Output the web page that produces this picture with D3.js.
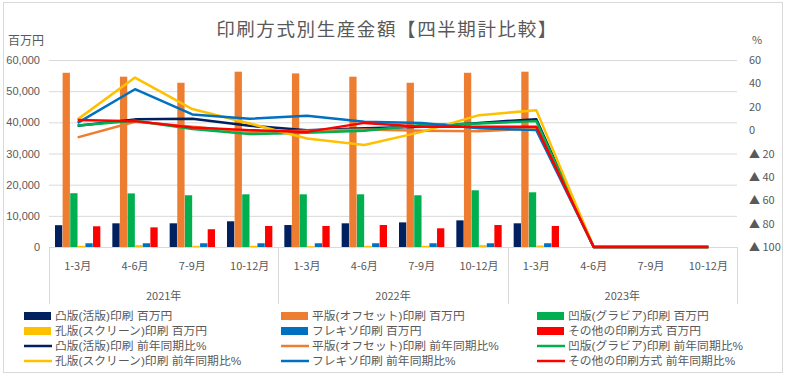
<!DOCTYPE html>
<html>
<head>
<meta charset="utf-8">
<script src="https://cdn.jsdelivr.net/npm/d3@7"></script>
<style>
  body { margin: 0; background: #fff; }
  text { font-family: "Noto Sans CJK JP", "Noto Sans", sans-serif; fill: #595959; }
</style>
</head>
<body>
<div id="chart-area"></div>
<script>
// categories
const quarters = ["1-3月", "4-6月", "7-9月", "10-12月"]
const years = ["2021年", "2022年", "2023年"]

// production amount, million yen (2023 Q2-Q4 not yet reported)
const letterpress = [7000, 7600, 7600, 8250, 7050, 7600, 7900, 8550, 7600, null, null, null]
const offset = [55900, 54650, 52700, 56250, 55700, 54650, 52700, 55900, 56250, null, null, null]
const gravure = [17250, 17200, 16600, 16900, 16900, 16900, 16600, 18200, 17550, null, null, null]
const screen = [400, 600, 400, 400, 300, 400, 400, 600, 500, null, null, null]
const flexo = [1200, 1200, 1200, 1200, 1200, 1200, 1200, 1200, 1200, null, null, null]
const other = [6650, 6300, 5700, 6750, 6750, 7050, 6000, 7050, 6750, null, null, null]

// year-on-year change, %
const letterpressYoY = [3.7, 9.2, 9.7, 3.7, 0, 1.5, 2.8, 6.2, 9.4, -100, -100, -100]
const offsetYoY = [-6.2, 7.1, 2.8, -1.5, -0.6, 0.6, -0.6, -0.9, 1.5, -100, -100, -100]
const gravureYoY = [4, 8, 0.9, -3.4, -2.3, -0.6, 4.3, 5.7, 7.7, -100, -100, -100]
const screenYoY = [9.2, 45, 18, 5.7, -7.1, -12.8, -1.5, 12.8, 17.1, -100, -100, -100]
const flexoYoY = [6.2, 35, 13.4, 9.7, 12.2, 7.1, 6.2, 1.5, 0, -100, -100, -100]
const otherYoY = [8.6, 7.7, 2.3, 0, -1.5, 6.2, 2.8, 2.8, 2.8, -100, -100, -100]

const seriesNames = ["凸版(活版)印刷", "平版(オフセット)印刷", "凹版(グラビア)印刷",
  "孔版(スクリーン)印刷", "フレキソ印刷", "その他の印刷方式"]
const seriesColors = ["#002060", "#ED7D31", "#00B050", "#FFC000", "#0070C0", "#FF0000"]
const barSeries = [letterpress, offset, gravure, screen, flexo, other]
const lineSeries = [letterpressYoY, offsetYoY, gravureYoY, screenYoY, flexoYoY, otherYoY]

const leftTicks = [0, 10000, 20000, 30000, 40000, 50000, 60000]
const rightTicks = [60, 40, 20, 0, -20, -40, -60, -80, -100]

const W = 787, H = 379
const MARGIN = { LEFT: 49, RIGHT: 50, TOP: 60, BOTTOM: 132 }
const WIDTH = W - MARGIN.LEFT - MARGIN.RIGHT
const HEIGHT = H - MARGIN.TOP - MARGIN.BOTTOM

const svg = d3.select("#chart-area").append("svg")
  .attr("width", W)
  .attr("height", H)

// chart frame
svg.append("rect")
  .attr("x", 3.5).attr("y", 2.5)
  .attr("width", 779).attr("height", 370)
  .attr("fill", "#fff")
  .attr("stroke", "#d9d9d9")

svg.append("text")
  .attr("x", 387).attr("y", 36)
  .attr("text-anchor", "middle")
  .attr("font-size", "18.5px")
  .attr("letter-spacing", "1.6px")
  .text("印刷方式別生産金額【四半期計比較】")

svg.append("text")
  .attr("x", 8).attr("y", 45)
  .attr("font-size", "12px")
  .text("百万円")

svg.append("text")
  .attr("x", 752).attr("y", 44)
  .attr("font-size", "11px")
  .text("%")

const g = svg.append("g")
  .attr("transform", `translate(${MARGIN.LEFT}, ${MARGIN.TOP})`)

const keys = d3.range(12)
const x = d3.scaleBand().domain(keys).range([0, WIDTH])
const xInner = d3.scaleBand().domain(d3.range(6))
  .range([6, x.bandwidth() - 6]).paddingInner(0.04)
const y = d3.scaleLinear().domain([0, 60000]).range([HEIGHT, 0])
const y2 = d3.scaleLinear().domain([-100, 60]).range([HEIGHT, 0])

// gridlines + left axis
const yAxis = g.append("g")
  .call(d3.axisLeft(y).tickValues(leftTicks).tickSize(-WIDTH)
    .tickFormat(d3.format(",")).tickPadding(9))
yAxis.select(".domain").remove()
yAxis.selectAll("line").attr("stroke", "#d9d9d9")
yAxis.selectAll("text").attr("font-size", "11px").attr("fill", "#595959")
  .style("font-family", "'Liberation Sans', sans-serif")

// right axis, negatives shown with a triangle as in Japanese reports
const y2Axis = g.append("g")
  .attr("transform", `translate(${WIDTH}, 0)`)
  .call(d3.axisRight(y2).tickValues(rightTicks).tickSize(0).tickPadding(12)
    .tickFormat(d => d < 0 ? "▲ " + (-d) : d))
y2Axis.select(".domain").remove()
y2Axis.selectAll("text").attr("font-size", "11px").attr("fill", "#595959")
  .style("font-family", "'Noto Sans CJK JP', sans-serif")

// category axis
g.append("line")
  .attr("x1", 0).attr("x2", WIDTH)
  .attr("y1", HEIGHT + 0.5).attr("y2", HEIGHT + 0.5)
  .attr("stroke", "#d9d9d9")

g.selectAll(".year-sep")
  .data(d3.range(4))
  .enter().append("line")
  .attr("x1", d => Math.round(d * 4 * x.step()) + 0.5)
  .attr("x2", d => Math.round(d * 4 * x.step()) + 0.5)
  .attr("y1", HEIGHT).attr("y2", HEIGHT + 57)
  .attr("stroke", "#d9d9d9")

g.selectAll(".qlabel")
  .data(keys)
  .enter().append("text")
  .attr("x", d => x(d) + x.bandwidth() / 2)
  .attr("y", HEIGHT + 23)
  .attr("text-anchor", "middle")
  .attr("font-size", "11px")
  .text(d => quarters[d % 4])

g.selectAll(".ylabel")
  .data(years)
  .enter().append("text")
  .attr("x", (d, i) => (i * 4 + 2) * x.step())
  .attr("y", HEIGHT + 53)
  .attr("text-anchor", "middle")
  .attr("font-size", "11px")
  .text(d => d)

// bars
barSeries.forEach((vals, s) => {
  g.selectAll(".bar" + s)
    .data(vals.map((v, i) => ({ i, v })).filter(d => d.v != null))
    .enter().append("rect")
    .attr("x", d => x(d.i) + xInner(s))
    .attr("width", xInner.bandwidth())
    .attr("y", d => y(d.v))
    .attr("height", d => HEIGHT - y(d.v))
    .attr("fill", seriesColors[s])
})

// YoY lines
const line = d3.line()
  .x((d, i) => x(i) + x.bandwidth() / 2)
  .y(d => y2(d))

lineSeries.forEach((vals, s) => {
  g.append("path")
    .attr("d", line(vals))
    .attr("fill", "none")
    .attr("stroke", seriesColors[s])
    .attr("stroke-width", 2.5)
    .attr("stroke-linejoin", "round")
})

// legend
const legendX = [24, 281, 537]
const legendY = [316, 331, 346, 361]
const legendItems = []
seriesNames.forEach((n, s) => legendItems.push({ name: n + " 百万円", s, type: "bar", pos: s }))
seriesNames.forEach((n, s) => legendItems.push({ name: n + " 前年同期比%", s, type: "line", pos: s + 6 }))

const legend = svg.selectAll(".legend")
  .data(legendItems)
  .enter().append("g")
  .attr("transform", d => `translate(${legendX[d.pos % 3]}, ${legendY[Math.floor(d.pos / 3)]})`)

legend.filter(d => d.type == "bar").append("rect")
  .attr("x", 0).attr("y", -4)
  .attr("width", 27).attr("height", 8)
  .attr("fill", d => seriesColors[d.s])

legend.filter(d => d.type == "line").append("line")
  .attr("x1", 0).attr("x2", 28)
  .attr("y1", 0).attr("y2", 0)
  .attr("stroke", d => seriesColors[d.s])
  .attr("stroke-width", 2.5)

legend.append("text")
  .attr("x", 31).attr("y", 4)
  .attr("font-size", "11.8px")
  .style("font-family", "'Liberation Sans', 'Noto Sans CJK JP', sans-serif")
  .text(d => d.name)
</script>
</body>
</html>
